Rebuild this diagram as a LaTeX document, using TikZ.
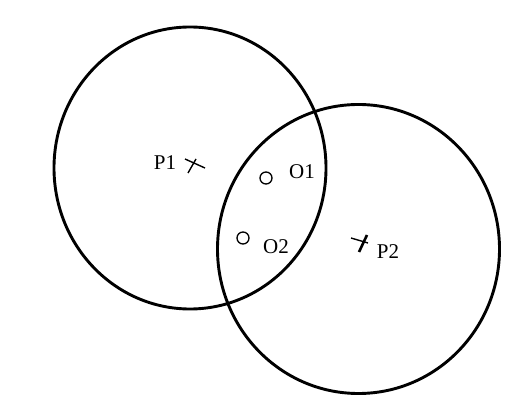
\documentclass[tikz,border=0pt]{standalone}
\usepackage{fontspec}
\setmainfont{Liberation Serif}
\usetikzlibrary{shapes.geometric}
\begin{document}
\begin{tikzpicture}[x=1pt,y=-1pt,
  ring/.style={draw=black,line width=2.9pt},
  lbl/.style={inner sep=0pt,font=\fontsize{21}{23}\selectfont},
  mark1/.style={draw=black,line width=1.4pt},
  obj/.style={draw=black,line width=1.3pt,circle,minimum size=12pt,inner sep=0pt}]
\useasboundingbox (0,0) rectangle (532,411);
\node[ring,ellipse,minimum width=272pt,minimum height=282pt,inner sep=0pt] (c1) at (190,168) {};
\node[ring,ellipse,minimum width=282pt,minimum height=289pt,inner sep=0pt] (c2) at (358.5,249) {};
% P1 cross
\coordinate (p1) at (194,166);
\draw[mark1] (185,159) -- (205,168);
\draw[mark1] (188,173) -- (196,159);
\node[lbl] (lp1) at (165,163) {P1};
% P2 cross
\coordinate (p2) at (360,244);
\draw[mark1] (351,238) -- (368,243);
\draw[black,line width=2.6pt] (359,252) -- (367,235);
\node[lbl] (lp2) at (388,252) {P2};
% O1, O2
\node[obj] (o1) at (266,178) {};
\node[lbl] (lo1) at (302,172) {O1};
\node[obj] (o2) at (243,238) {};
\node[lbl] (lo2) at (276,247) {O2};
\end{tikzpicture}
\end{document}
